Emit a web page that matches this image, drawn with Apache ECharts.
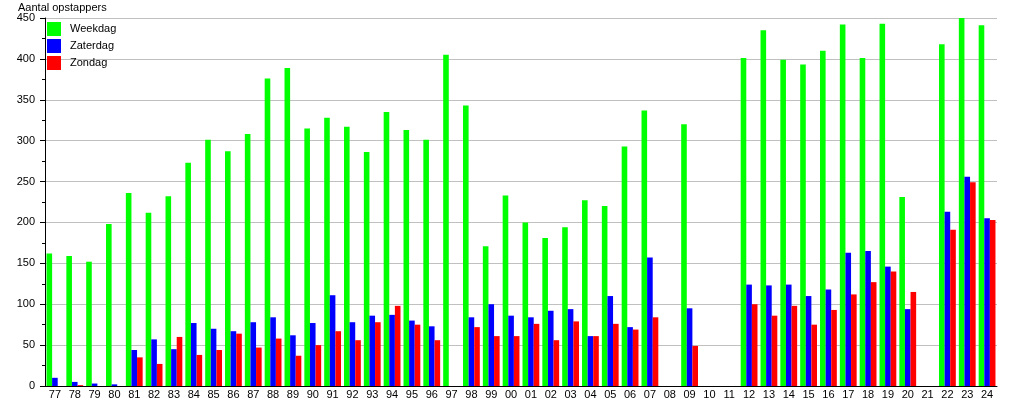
<!DOCTYPE html>
<html>
<head>
<meta charset="utf-8">
<script src="https://cdn.jsdelivr.net/npm/echarts@6/dist/echarts.min.js"></script>
<style>html,body{margin:0;padding:0;background:#fff;}#c{width:1015px;height:400px;}</style>
</head>
<body>
<div id="c"></div>
<script>
const categories = ['77','78','79','80','81','82','83','84','85','86','87','88','89','90','91','92','93','94','95','96','97','98','99','00','01','02','03','04','05','06','07','08','09','10','11','12','13','14','15','16','17','18','19','20','21','22','23','24'];
const weekdag = [162,159,152,198,236,212,232,273,301,287,308,376,389,315,328,317,286,335,313,301,405,343,171,233,200,181,194,227,220,293,337,0,320,0,0,401,435,399,393,410,442,401,443,231,0,418,450,441];
const zaterdag = [10,5,3,2,44,57,45,77,70,67,78,84,62,77,111,78,86,87,80,73,0,84,100,86,84,92,94,61,110,72,157,0,95,0,0,124,123,124,110,118,163,165,146,94,0,213,256,205];
const zondag = [0,1,0,0,35,27,60,38,44,64,47,58,37,50,67,56,78,98,75,56,0,72,61,61,76,56,79,61,76,69,84,0,49,0,0,100,86,98,75,93,112,127,140,115,0,191,249,203];
const yTicks = [0,50,100,150,200,250,300,350,400,450];

const font = '"Liberation Sans", Arial, sans-serif';
const chart = echarts.init(document.getElementById('c'), null, {renderer: 'canvas'});
const mk = (name, data, color) => ({
  name, type: 'bar', data, barWidth: 5.6, barGap: '0%',
  itemStyle: {color}, animation: false
});
chart.setOption({
  animation: false,
  backgroundColor: '#fff',
  grid: {left: 45, right: 18, top: 18, bottom: 13, containLabel: false},
  legend: {
    orient: 'vertical', left: 42, top: 17, itemWidth: 14, itemHeight: 14, itemGap: 3,
    icon: 'rect',
    textStyle: {fontFamily: font, fontSize: 11, color: '#000', padding: [0,0,0,4]},
    data: ['Weekdag','Zaterdag','Zondag']
  },
  graphic: [{type: 'text', left: 18, top: 2, style: {text: 'Aantal opstappers', font: '11px ' + font, fill: '#000'}}],
  xAxis: {
    type: 'category', data: categories,
    axisLine: {lineStyle: {color: '#000', width: 1}},
    axisTick: {show: false},
    axisLabel: {fontFamily: font, fontSize: 11, color: '#000', margin: 3, interval: 0}
  },
  yAxis: {
    type: 'value', min: yTicks[0], max: yTicks[yTicks.length-1], interval: 50,
    axisLine: {show: true, lineStyle: {color: '#000'}},
    axisTick: {show: true, length: 5, lineStyle: {color: '#000'}},
    minorTick: {show: true, splitNumber: 2, length: 3, lineStyle: {color: '#000'}},
    splitLine: {lineStyle: {color: '#c0c0c0', width: 1}},
    axisLabel: {fontFamily: font, fontSize: 11, color: '#000', margin: 10}
  },
  series: [
    mk('Weekdag', weekdag, '#00ff00'),
    mk('Zaterdag', zaterdag, '#0000ff'),
    mk('Zondag', zondag, '#ff0000')
  ]
});
</script>
</body>
</html>
